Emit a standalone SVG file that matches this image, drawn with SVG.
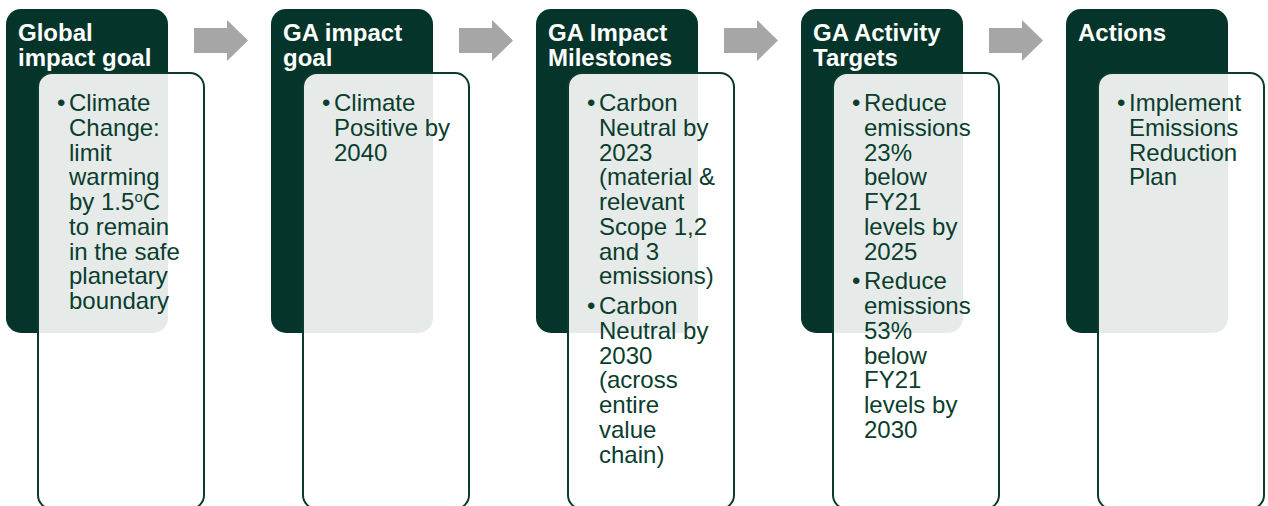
<svg xmlns="http://www.w3.org/2000/svg" width="1268" height="506" viewBox="0 0 1268 506">
  <style>
    .head { fill: #05352a; }
    .box { fill: #ffffff; fill-opacity: 0.9; stroke: #0b3b2d; stroke-width: 2; }
    .title { font-family: "Liberation Sans", Arial, sans-serif; font-weight: bold; font-size: 24px; fill: #ffffff; }
    .body { font-family: "Liberation Sans", Arial, sans-serif; font-size: 24px; fill: #0b3d2d; }
    .arrow { fill: #a6a6a6; }
  </style>
  <defs>
    <polygon id="chev" points="0,28 33,28 33,20 54,40.5 33,61 33,53 0,53"/>
  </defs>

  <!-- connectors: block arrows between stages -->
  <g id="connectors" class="arrow">
    <use href="#chev" x="194"/>
    <use href="#chev" x="459"/>
    <use href="#chev" x="724"/>
    <use href="#chev" x="989"/>
  </g>

  <!-- stage 1 -->
  <g id="global-impact-goal">
    <rect class="head" x="6" y="9" width="162" height="324" rx="15"/>
    <rect class="box" x="38" y="73" width="166" height="436" rx="14"/>
    <text class="title" x="18" y="41">Global</text>
    <text class="title" x="18" y="65.5">impact goal</text>
    <text class="body" x="57" y="111">•</text>
    <text class="body">
      <tspan x="69" y="111">Climate</tspan>
      <tspan x="69" y="135.75">Change:</tspan>
      <tspan x="69" y="160.5">limit</tspan>
      <tspan x="69" y="185.25">warming</tspan>
      <tspan x="69" y="210">by 1.5<tspan font-size="15" dy="-8">o</tspan><tspan dy="8">C</tspan></tspan>
      <tspan x="69" y="234.75">to remain</tspan>
      <tspan x="69" y="259.5">in the safe</tspan>
      <tspan x="69" y="284.25">planetary</tspan>
      <tspan x="69" y="309">boundary</tspan>
    </text>
  </g>

  <!-- stage 2 -->
  <g id="ga-impact-goal">
    <rect class="head" x="271" y="9" width="162" height="324" rx="15"/>
    <rect class="box" x="303" y="73" width="166" height="436" rx="14"/>
    <text class="title" x="283" y="41">GA impact</text>
    <text class="title" x="283" y="65.5">goal</text>
    <text class="body" x="322" y="111">•</text>
    <text class="body">
      <tspan x="334" y="111">Climate</tspan>
      <tspan x="334" y="135.75">Positive by</tspan>
      <tspan x="334" y="160.5">2040</tspan>
    </text>
  </g>

  <!-- stage 3 -->
  <g id="ga-impact-milestones">
    <rect class="head" x="536" y="9" width="162" height="324" rx="15"/>
    <rect class="box" x="568" y="73" width="166" height="436" rx="14"/>
    <text class="title" x="548" y="41">GA Impact</text>
    <text class="title" x="548" y="65.5">Milestones</text>
    <text class="body" x="587" y="111">•</text>
    <text class="body" x="587" y="314">•</text>
    <text class="body">
      <tspan x="599" y="111">Carbon</tspan>
      <tspan x="599" y="135.75">Neutral by</tspan>
      <tspan x="599" y="160.5">2023</tspan>
      <tspan x="599" y="185.25">(material &amp;</tspan>
      <tspan x="599" y="210">relevant</tspan>
      <tspan x="599" y="234.75">Scope 1,2</tspan>
      <tspan x="599" y="259.5">and 3</tspan>
      <tspan x="599" y="284.25">emissions)</tspan>
      <tspan x="599" y="314">Carbon</tspan>
      <tspan x="599" y="338.75">Neutral by</tspan>
      <tspan x="599" y="363.5">2030</tspan>
      <tspan x="599" y="388.25">(across</tspan>
      <tspan x="599" y="413">entire</tspan>
      <tspan x="599" y="437.75">value</tspan>
      <tspan x="599" y="462.5">chain)</tspan>
    </text>
  </g>

  <!-- stage 4 -->
  <g id="ga-activity-targets">
    <rect class="head" x="801" y="9" width="162" height="324" rx="15"/>
    <rect class="box" x="833" y="73" width="166" height="436" rx="14"/>
    <text class="title" x="813" y="41">GA Activity</text>
    <text class="title" x="813" y="65.5">Targets</text>
    <text class="body" x="852" y="111">•</text>
    <text class="body" x="852" y="289.25">•</text>
    <text class="body">
      <tspan x="864" y="111">Reduce</tspan>
      <tspan x="864" y="135.75">emissions</tspan>
      <tspan x="864" y="160.5">23%</tspan>
      <tspan x="864" y="185.25">below</tspan>
      <tspan x="864" y="210">FY21</tspan>
      <tspan x="864" y="234.75">levels by</tspan>
      <tspan x="864" y="259.5">2025</tspan>
      <tspan x="864" y="289.25">Reduce</tspan>
      <tspan x="864" y="314">emissions</tspan>
      <tspan x="864" y="338.75">53%</tspan>
      <tspan x="864" y="363.5">below</tspan>
      <tspan x="864" y="388.25">FY21</tspan>
      <tspan x="864" y="413">levels by</tspan>
      <tspan x="864" y="437.75">2030</tspan>
    </text>
  </g>

  <!-- stage 5 -->
  <g id="actions">
    <rect class="head" x="1066" y="9" width="162" height="324" rx="15"/>
    <rect class="box" x="1098" y="73" width="166" height="436" rx="14"/>
    <text class="title" x="1078" y="41">Actions</text>
    <text class="body" x="1117" y="111">•</text>
    <text class="body">
      <tspan x="1129" y="111">Implement</tspan>
      <tspan x="1129" y="135.75">Emissions</tspan>
      <tspan x="1129" y="160.5">Reduction</tspan>
      <tspan x="1129" y="185.25">Plan</tspan>
    </text>
  </g>
</svg>
